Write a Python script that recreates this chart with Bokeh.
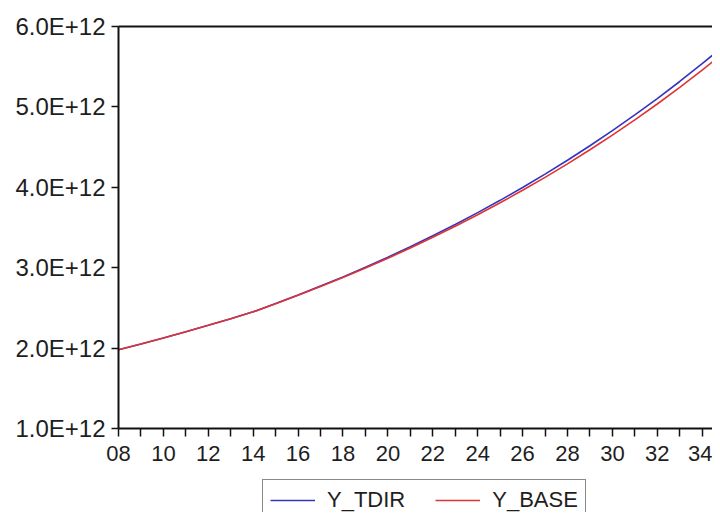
from bokeh.plotting import figure
from bokeh.layouts import column
from bokeh.models import Range1d, FixedTicker, LinearAxis, Legend, LegendItem
from bokeh.embed import file_html
from bokeh.resources import INLINE

years = [2008, 2009, 2010, 2011, 2012, 2013, 2014, 2015, 2016, 2017,
         2018, 2019, 2020, 2021, 2022, 2023, 2024, 2025, 2026, 2027,
         2028, 2029, 2030, 2031, 2032, 2033, 2034, 2035]

y_tdir = [1.980e12, 2.052e12, 2.126e12, 2.203e12, 2.283e12, 2.365e12, 2.451e12,
          2.554e12, 2.660e12, 2.771e12, 2.886e12, 3.006e12, 3.131e12, 3.261e12,
          3.397e12, 3.538e12, 3.685e12, 3.838e12, 3.998e12, 4.164e12, 4.337e12,
          4.517e12, 4.705e12, 4.900e12, 5.104e12, 5.316e12, 5.537e12, 5.767e12]

y_base = [1.980e12, 2.052e12, 2.126e12, 2.203e12, 2.283e12, 2.365e12, 2.451e12,
          2.553e12, 2.657e12, 2.766e12, 2.879e12, 2.996e12, 3.118e12, 3.245e12,
          3.378e12, 3.515e12, 3.658e12, 3.807e12, 3.963e12, 4.124e12, 4.292e12,
          4.467e12, 4.649e12, 4.838e12, 5.036e12, 5.242e12, 5.457e12, 5.680e12]

x_ticks = years
x_tick_labels = ["08", "", "10", "", "12", "", "14", "", "16", "", "18", "", "20", "",
                 "22", "", "24", "", "26", "", "28", "", "30", "", "32", "", "34", ""]

y_ticks = [1000000000000, 2000000000000, 3000000000000,
           4000000000000, 5000000000000, 6000000000000]
y_tick_labels = ["1.0E+12", "2.0E+12", "3.0E+12", "4.0E+12", "5.0E+12", "6.0E+12"]

series_names = ["Y_TDIR", "Y_BASE"]
series_colors = ["#3434c0", "#e03434"]

FONT = "Liberation Sans"
TXT = "#1e1e1e"
AX = "#111111"

p = figure(width=712, height=478,
           x_range=Range1d(2008, 2034.46), y_range=Range1d(1e12, 6e12),
           x_axis_type=None, y_axis_type=None,
           output_backend="svg", toolbar_location=None,
           min_border_left=118, min_border_right=0,
           min_border_top=26, min_border_bottom=50)
p.outline_line_color = None
p.background_fill_color = "white"
p.border_fill_color = "white"

# left axis
yax = LinearAxis(ticker=FixedTicker(ticks=y_ticks),
                 major_label_overrides={t: l for t, l in zip(y_ticks, y_tick_labels)})
yax.axis_line_width = 2
yax.axis_line_color = AX
yax.major_tick_in = 0
yax.major_tick_out = 7
yax.major_tick_line_width = 1.5
yax.major_tick_line_color = AX
yax.minor_tick_line_color = None
yax.major_label_standoff = 6
yax.major_label_text_font = FONT
yax.major_label_text_font_size = "24px"
yax.major_label_text_color = TXT
p.add_layout(yax, "left")

# bottom axis
xax = LinearAxis(ticker=FixedTicker(ticks=x_ticks),
                 major_label_overrides={t: l for t, l in zip(x_ticks, x_tick_labels)})
xax.axis_line_width = 2
xax.axis_line_color = AX
xax.major_tick_in = 0
xax.major_tick_out = 8
xax.major_tick_line_width = 1.5
xax.major_tick_line_color = AX
xax.minor_tick_line_color = None
xax.major_label_standoff = 9
xax.major_label_text_font = FONT
xax.major_label_text_font_size = "22px"
xax.major_label_text_color = TXT
p.add_layout(xax, "below")

# top frame line
tax = LinearAxis(ticker=FixedTicker(ticks=[]))
tax.axis_line_width = 2
tax.axis_line_color = AX
tax.major_tick_line_color = None
tax.minor_tick_line_color = None
tax.major_label_text_font_size = "0px"
p.add_layout(tax, "above")

p.line(years, y_tdir, line_color=series_colors[0], line_width=1.6)
p.line(years, y_base, line_color=series_colors[1], line_width=1.6)

# legend strip (box cut off at the bottom, as in the reference)
q = figure(width=712, height=34, x_range=Range1d(0, 1), y_range=Range1d(0, 1),
           x_axis_type=None, y_axis_type=None,
           output_backend="svg", toolbar_location=None,
           min_border_left=0, min_border_right=0, min_border_top=0, min_border_bottom=0)
q.outline_line_color = None
q.background_fill_color = "white"
q.border_fill_color = "white"
# same series, outside this strip's ranges: only their legend samples show
q1 = q.line(years, y_tdir, line_color=series_colors[0], line_width=1.6)
q2 = q.line(years, y_base, line_color=series_colors[1], line_width=1.6)

legend = Legend(items=[LegendItem(label=series_names[0], renderers=[q1]),
                       LegendItem(label=series_names[1], renderers=[q2])],
                orientation="horizontal", location=(144, -9),
                border_line_color=AX, border_line_width=1.5,
                background_fill_color="white", background_fill_alpha=1,
                label_text_font=FONT, label_text_font_size="22px",
                label_text_color=TXT,
                glyph_width=45, glyph_height=24, label_height=24,
                label_standoff=12, spacing=30, padding=7, margin=0)
q.add_layout(legend, "center")

page = column(p, q, spacing=0)
open("out.html", "w").write(file_html(page, INLINE))
